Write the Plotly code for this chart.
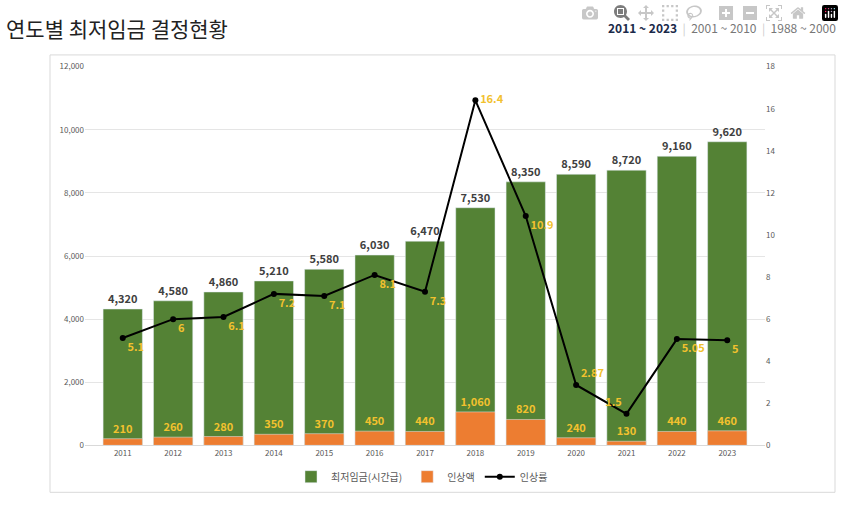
import plotly.graph_objects as go

years = [str(y) for y in range(2011, 2024)]
wage = [4320, 4580, 4860, 5210, 5580, 6030, 6470, 7530, 8350, 8590, 8720, 9160, 9620]
raise_amt = [210, 260, 280, 350, 370, 450, 440, 1060, 820, 240, 130, 440, 460]
rate = [5.1, 6, 6.1, 7.2, 7.1, 8.1, 7.3, 16.4, 10.9, 2.87, 1.5, 5.05, 5]

W, H = 844, 512
gold = "#f2c12e"

fig = go.Figure()
fig.add_bar(x=years, y=wage, name="최저임금(시간급)", marker_color="#548235",
            text=[f"<b>{v:,}</b>" for v in wage], textposition="outside",
            textfont=dict(size=11, color="#404040", family="Noto Sans CJK KR"),
            cliponaxis=False)
fig.add_bar(x=years, y=raise_amt, name="인상액", marker_color="#ed7d31",
            text=[f"<b>{v:,}</b>" for v in raise_amt], textposition="outside",
            textfont=dict(size=11, color=gold, family="Noto Sans CJK KR"),
            cliponaxis=False)
pos = ["bottom right"] * len(rate)
pos[7] = "middle right"
pos[9] = "top right"
pos[10] = "top left"
fig.add_scatter(x=years, y=rate, name="인상률", yaxis="y2", mode="lines+markers+text",
                line=dict(color="black", width=2), marker=dict(size=6, color="black"),
                text=[f"<b>{v}</b>" for v in rate], textposition=pos,
                textfont=dict(size=11, color=gold, family="Noto Sans CJK KR"),
                cliponaxis=False)

fig.update_layout(
    width=W, height=H, margin=dict(l=0, r=0, t=0, b=0),
    paper_bgcolor="white", plot_bgcolor="white",
    barmode="overlay", bargap=0.22, showlegend=True,
    font=dict(family="Noto Sans CJK KR", size=9, color="#595959"),
    xaxis=dict(domain=[85 / W, 765 / W], tickfont=dict(size=8), showline=True,
               linecolor="#d9d9d9", ticks=""),
    yaxis=dict(domain=[1 - 449 / H, 1 - 62 / H], range=[0, 12000], dtick=2000,
               tickformat=",", gridcolor="#e5e5e5", tickfont=dict(size=8), zeroline=False),
    yaxis2=dict(overlaying="y", side="right", range=[0, 18], dtick=2,
                showgrid=False, tickfont=dict(size=8), zeroline=False),
    legend=dict(orientation="h", x=0.5, xanchor="center", y=1 - 481 / H, yanchor="middle",
                font=dict(size=10, color="#595959")),
    shapes=[dict(type="rect", xref="paper", yref="paper", x0=50 / W, x1=835 / W,
                 y0=1 - 497 / H, y1=1 - 50 / H, line=dict(color="#d9d9d9", width=1))],
    annotations=[
        dict(text="연도별 최저임금 결정현황", xref="paper", yref="paper", x=4 / W, y=1 - 22 / H,
             xanchor="left", yanchor="middle", showarrow=False,
             font=dict(size=21, color="#222", family="Noto Sans CJK KR")),
        dict(text="<b>2011 ~ 2023</b>  <span style='color:#ccc'>|</span>  "
                  "<span style='color:#777'>2001 ~ 2010</span>  <span style='color:#ccc'>|</span>  "
                  "<span style='color:#777'>1988 ~ 2000</span>",
             xref="paper", yref="paper", x=838 / W, y=1 - 22 / H, xanchor="right",
             yanchor="middle", showarrow=False,
             font=dict(size=12, color="#1a2a4a", family="Noto Sans CJK KR")),
    ],
)
fig.write_html("out.html")

# drop the default page margin so the figure sits at the window's corner
with open("out.html", encoding="utf-8") as f:
    html = f.read()
html = html.replace("<head>", "<head><style>body{margin:0;overflow:hidden}</style>", 1)
with open("out.html", "w", encoding="utf-8") as f:
    f.write(html)
